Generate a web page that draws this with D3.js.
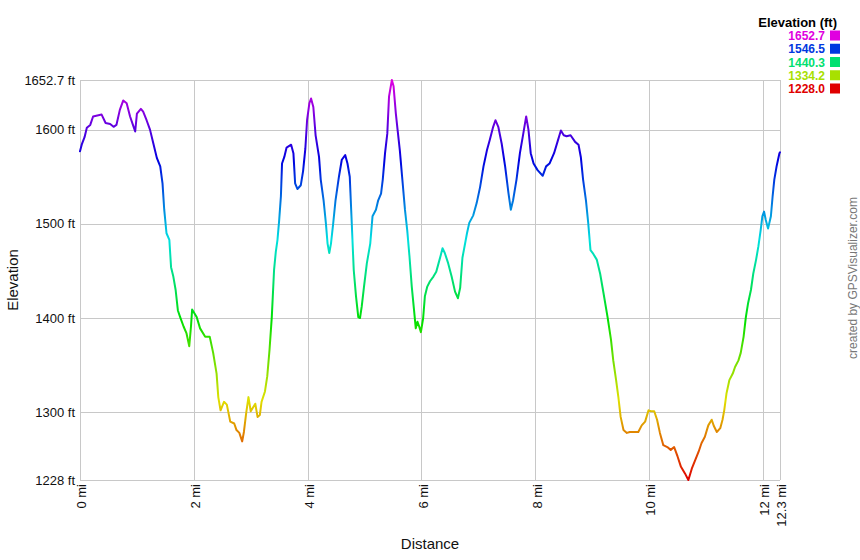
<!DOCTYPE html>
<html>
<head>
<meta charset="utf-8">
<script src="https://cdn.jsdelivr.net/npm/d3@7"></script>
<style>
  html, body { margin: 0; padding: 0; background: #fff; }
  svg { display: block; font-family: "Liberation Sans", Arial, Helvetica, sans-serif; }
</style>
</head>
<body>
<svg id="chart" width="860" height="560"></svg>
<script>
// ---- Data (distance in miles, elevation in feet) ----
const distance = [
  0.00,0.03,0.08,0.12,0.18,0.23,0.38,0.45,0.53,0.59,0.64,0.70,0.76,0.82,0.88,0.93,0.97,1.00,1.07,1.11,
  1.17,1.23,1.29,1.35,1.41,1.45,1.48,1.52,1.57,1.60,1.64,1.68,1.72,1.76,1.82,1.87,1.92,1.95,1.97,2.05,
  2.11,2.20,2.28,2.34,2.40,2.43,2.47,2.53,2.58,2.64,2.71,2.75,2.80,2.85,2.88,2.92,2.96,3.00,3.08,3.12,
  3.16,3.19,3.25,3.29,3.33,3.37,3.41,3.44,3.47,3.50,3.53,3.55,3.59,3.63,3.71,3.75,3.78,3.82,3.88,3.92,
  3.96,3.99,4.03,4.06,4.10,4.14,4.20,4.23,4.28,4.32,4.35,4.38,4.41,4.45,4.49,4.55,4.60,4.66,4.70,4.74,
  4.77,4.81,4.85,4.89,4.92,4.95,4.99,5.04,5.10,5.14,5.20,5.24,5.29,5.32,5.36,5.40,5.43,5.48,5.51,5.55,
  5.58,5.62,5.66,5.71,5.75,5.79,5.83,5.87,5.90,5.93,5.96,5.99,6.03,6.06,6.10,6.15,6.21,6.26,6.30,6.34,
  6.37,6.41,6.47,6.53,6.59,6.64,6.68,6.72,6.80,6.84,6.91,6.97,7.03,7.09,7.15,7.20,7.26,7.30,7.35,7.41,
  7.47,7.53,7.57,7.61,7.67,7.73,7.79,7.84,7.88,7.92,7.97,8.04,8.13,8.19,8.25,8.33,8.39,8.45,8.50,8.55,
  8.62,8.70,8.76,8.80,8.84,8.89,8.93,8.97,9.02,9.08,9.14,9.20,9.27,9.33,9.37,9.42,9.46,9.50,9.55,9.61,
  9.66,9.81,9.87,9.93,9.99,10.03,10.09,10.14,10.19,10.25,10.32,10.38,10.44,10.50,10.56,10.63,10.69,10.75,10.81,10.87,
  10.92,10.98,11.04,11.10,11.14,11.19,11.25,11.29,11.32,11.36,11.41,11.47,11.51,11.57,11.61,11.66,11.70,11.74,11.79,11.83,
  11.88,11.92,11.96,11.99,12.02,12.05,12.09,12.14,12.17,12.20,12.24,12.29,12.30
];
const elevation = [
  1577,1584,1592,1602,1605,1614,1616,1607,1606,1603,1605,1621,1631,1628,1614,1605,1598,1617,1622,1619,
  1610,1600,1585,1570,1561,1543,1515,1490,1483,1454,1444,1430,1408,1401,1391,1384,1370,1391,1409,1401,
  1389,1380,1380,1363,1341,1316,1302,1311,1308,1290,1288,1281,1278,1269,1279,1299,1316,1301,1309,1295,
  1297,1311,1322,1338,1366,1401,1451,1470,1483,1504,1529,1564,1571,1581,1584,1575,1543,1537,1541,1556,
  1580,1610,1628,1633,1624,1594,1571,1547,1525,1501,1479,1469,1479,1501,1525,1550,1568,1573,1564,1550,
  1508,1451,1423,1401,1400,1412,1433,1458,1479,1508,1515,1525,1532,1547,1575,1596,1635,1652.7,1646,1617,
  1600,1578,1550,1515,1493,1465,1433,1408,1389,1396,1391,1385,1400,1423,1433,1439,1444,1449,1458,1467,
  1474,1469,1458,1444,1428,1421,1432,1464,1490,1501,1509,1522,1539,1561,1578,1589,1603,1610,1603,1585,
  1561,1532,1515,1525,1547,1575,1596,1614,1600,1575,1564,1557,1551,1561,1564,1575,1587,1599,1594,1593,
  1594,1587,1584,1571,1547,1525,1501,1472,1468,1462,1447,1426,1401,1377,1355,1334,1316,1295,1281,1278,
  1279,1279,1286,1290,1302,1301,1301,1292,1278,1265,1263,1260,1263,1253,1242,1235,1228,1240,1249,1258,
  1267,1274,1286,1292,1285,1279,1283,1292,1302,1320,1334,1341,1348,1355,1363,1380,1401,1416,1430,1447,
  1462,1476,1493,1508,1513,1504,1495,1508,1529,1547,1561,1575,1576
];
const xTickValues = [0, 2, 4, 6, 8, 10, 12, 12.3];
const yTickValues = [1228, 1300, 1400, 1500, 1600, 1652.7];
const yTickLabels = ["1228 ft", "1300 ft", "1400 ft", "1500 ft", "1600 ft", "1652.7 ft"];
const legendValues = [1652.7, 1546.5, 1440.3, 1334.2, 1228.0];
const legendLabels = ["1652.7", "1546.5", "1440.3", "1334.2", "1228.0"];

(function () {
// ---- Layout ----
const svg = d3.select("#chart");
const pLeft = 80, pRight = 780, pTop = 80, pBottom = 480;
const minE = 1228, maxE = 1652.7, maxD = 12.3;

const x = d3.scaleLinear().domain([0, maxD]).range([pLeft, pRight]);
const y = d3.scaleLinear().domain([minE, maxE]).range([pBottom, pTop]);
const hue = d3.scaleLinear().domain([minE, maxE]).range([0, 300]);
const colorOf = e => d3.hsl(hue(e), 1, 0.44).formatHex();

// ---- Gradient ----
const defs = svg.append("defs");
const grad = defs.append("linearGradient")
  .attr("id", "elevGrad")
  .attr("gradientUnits", "userSpaceOnUse")
  .attr("x1", 0).attr("x2", 0)
  .attr("y1", y(minE)).attr("y2", y(maxE));
d3.range(0, 1.0001, 0.05).forEach(t => {
  grad.append("stop").attr("offset", t).attr("stop-color", colorOf(minE + t * (maxE - minE)));
});

// ---- Grid ----
const grid = svg.append("g").attr("stroke", "#c8c8c8").attr("stroke-width", 1).attr("shape-rendering", "crispEdges");
grid.selectAll("line.h").data(yTickValues).join("line")
  .attr("x1", pLeft).attr("x2", pRight)
  .attr("y1", d => Math.round(y(d)) + 0.5).attr("y2", d => Math.round(y(d)) + 0.5);
grid.selectAll("line.v").data(xTickValues).join("line")
  .attr("y1", pTop).attr("y2", pBottom)
  .attr("x1", d => Math.round(x(d)) + 0.5).attr("x2", d => Math.round(x(d)) + 0.5);

// ---- Axes ----
const yAxis = d3.axisLeft(y).tickValues(yTickValues)
  .tickFormat((d, i) => yTickLabels[i]).tickSize(0).tickPadding(5);
const gy = svg.append("g").attr("transform", `translate(${pLeft},0)`).call(yAxis);
gy.select(".domain").remove();
gy.selectAll("text").attr("font-size", 13).attr("fill", "#111").attr("font-family", "Liberation Sans, Arial, sans-serif");

const xAxis = d3.axisBottom(x).tickValues(xTickValues)
  .tickFormat(d => d + " mi").tickSize(0);
const gx = svg.append("g").attr("transform", `translate(0,${pBottom})`).call(xAxis);
gx.select(".domain").remove();
gx.selectAll("text")
  .attr("font-size", 13).attr("fill", "#111").attr("font-family", "Liberation Sans, Arial, sans-serif")
  .attr("transform", "rotate(-90)")
  .attr("text-anchor", "end")
  .attr("x", -4).attr("y", 0).attr("dy", "0.45em");

// ---- Axis titles ----
svg.append("text")
  .attr("transform", `translate(18,${(pTop + pBottom) / 2}) rotate(-90)`)
  .attr("text-anchor", "middle").attr("font-size", 15).attr("fill", "#111")
  .text("Elevation");
svg.append("text")
  .attr("x", (pLeft + pRight) / 2).attr("y", 549)
  .attr("text-anchor", "middle").attr("font-size", 15).attr("fill", "#111")
  .text("Distance");

// ---- Credit ----
svg.append("text")
  .attr("transform", "translate(857,278) rotate(-90)")
  .attr("text-anchor", "middle").attr("font-size", 12).attr("fill", "#777")
  .text("created by GPSVisualizer.com");

// ---- Profile line ----
const pts = distance.map((d, i) => [d, elevation[i]]);
const line = d3.line().x(d => x(d[0])).y(d => y(d[1]));
svg.append("path")
  .datum(pts)
  .attr("d", line)
  .attr("fill", "none")
  .attr("stroke", "url(#elevGrad)")
  .attr("stroke-width", 2)
  .attr("stroke-linejoin", "round")
  .attr("stroke-linecap", "round");

// ---- Legend ----
const lg = svg.append("g");
lg.append("text")
  .attr("x", 837).attr("y", 27).attr("text-anchor", "end")
  .attr("font-size", 13).attr("font-weight", "bold").attr("fill", "#000")
  .text("Elevation (ft)");
const rows = lg.selectAll("g.row").data(legendValues).join("g")
  .attr("transform", (d, i) => `translate(0,${40 + i * 13.25})`);
rows.append("text")
  .attr("x", 825).attr("y", 0).attr("text-anchor", "end")
  .attr("font-size", 12).attr("font-weight", "bold")
  .attr("fill", d => colorOf(d))
  .text((d, i) => legendLabels[i]);
rows.append("rect")
  .attr("x", 830).attr("y", -9.5).attr("width", 10).attr("height", 10)
  .attr("fill", d => colorOf(d));
})();
</script>
</body>
</html>
